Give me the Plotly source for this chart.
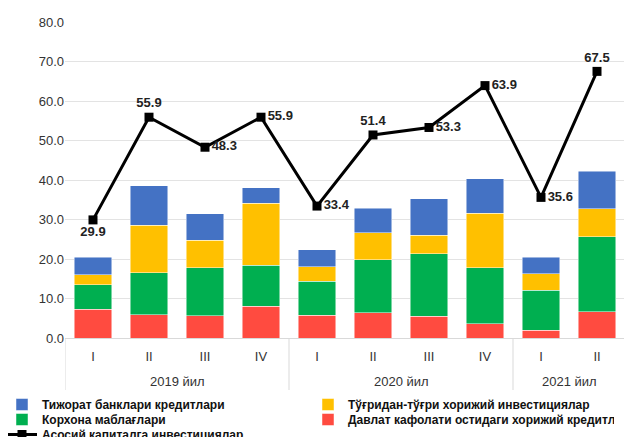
import plotly.graph_objects as go

years = ["2019 йил"] * 4 + ["2020 йил"] * 4 + ["2021 йил"] * 2
quarters = ["I", "II", "III", "IV", "I", "II", "III", "IV", "I", "II"]

red_vals = [7.3, 5.9, 5.6, 8.0, 5.8, 6.4, 5.5, 3.6, 2.0, 6.6]
green_vals = [6.2, 10.6, 12.2, 10.4, 8.6, 13.4, 15.8, 14.2, 10.1, 19.0]
yellow_vals = [2.5, 12.1, 7.0, 15.7, 3.7, 6.9, 4.7, 13.8, 4.2, 7.1]
blue_vals = [4.5, 10.0, 6.7, 3.9, 4.3, 6.1, 9.3, 8.7, 4.2, 9.5]
line_vals = [29.9, 55.9, 48.3, 55.9, 33.4, 51.4, 53.3, 63.9, 35.6, 67.5]

label_pos = ["bottom center", "top center", "middle right", "middle right", "middle right",
             "top center", "middle right", "middle right", "middle right", "top center"]

idx = list(range(len(quarters)))
font_family = "Liberation Sans, Arial, sans-serif"
AXIS_GREY = "#D9D9D9"

fig = go.Figure()
bar_specs = [
    ("Давлат кафолати остидаги хорижий кредитлар", red_vals, "#FF4B40", "legend2", 2),
    ("Корхона маблағлари", green_vals, "#00AF50", "legend2", 1),
    ("Тўғридан-тўғри хорижий инвестициялар", yellow_vals, "#FFC000", "legend", 2),
    ("Тижорат банклари кредитлари", blue_vals, "#4472C4", "legend", 1),
]
for name, vals, color, leg, rank in bar_specs:
    fig.add_trace(go.Bar(
        x=idx, y=vals, name=name, legend=leg, legendrank=rank,
        marker=dict(color=color, line=dict(color="rgba(255,255,255,0.6)", width=0.8)),
    ))

fig.add_trace(go.Scatter(
    x=idx, y=line_vals, name="Асосий капиталга инвестициялар", legend="legend3",
    mode="lines+markers+text",
    line=dict(color="black", width=3),
    marker=dict(symbol="square", size=9, color="black"),
    texttemplate="%{y:.1f}", textposition=label_pos,
    textfont=dict(family=font_family, size=13, color="#222", weight="bold"),
    cliponaxis=False,
))

# page has an 8px body offset; plot area target (page px): x 65..625, y 22..338
PLOT_H = 316.0
def ypos(px):
    return -(px - 338) / PLOT_H

# year group labels and dividers, derived from the years list
groups = []
for i, yname in enumerate(years):
    if not groups or groups[-1][0] != yname:
        groups.append([yname, i, i])
    else:
        groups[-1][2] = i

annotations = []
shapes = []
for yname, start, end in groups:
    annotations.append(dict(
        x=(start + end) / 2, y=ypos(381), xref="x", yref="paper",
        text=yname, showarrow=False, yanchor="middle",
        font=dict(family=font_family, size=13, color="#333"),
    ))
    shapes.append(dict(type="line", xref="x", yref="paper",
                       x0=start - 0.5, x1=start - 0.5, y0=0, y1=ypos(390),
                       line=dict(color=AXIS_GREY, width=1)))
shapes.append(dict(type="line", xref="x", yref="paper",
                   x0=groups[-1][2] + 0.5, x1=groups[-1][2] + 0.5, y0=0, y1=ypos(390),
                   line=dict(color=AXIS_GREY, width=1)))

leg_common = dict(
    orientation="h", traceorder="normal",
    x=-0.1125, xanchor="left", yanchor="top",
    entrywidth=261, entrywidthmode="pixels",
    font=dict(family=font_family, size=12, color="#111", weight="bold"),
    itemwidth=30, tracegroupgap=0,
    bgcolor="rgba(0,0,0,0)",
)

fig.update_layout(
    width=632, height=437,
    barmode="stack", bargap=0.33,
    paper_bgcolor="white", plot_bgcolor="white",
    margin=dict(l=57, r=15, t=14, b=107, autoexpand=False),
    font=dict(family=font_family, size=12, color="#333"),
    showlegend=True,
    legend=dict(leg_common, y=ypos(390)),
    legend2=dict(leg_common, y=ypos(405)),
    legend3=dict(leg_common, y=ypos(420)),
    annotations=annotations,
    shapes=shapes,
    yaxis=dict(
        range=[0, 80], dtick=10, tickformat=".1f",
        showgrid=True, gridcolor="#E3E3E3", gridwidth=1,
        zeroline=False, showline=False,
        tickfont=dict(size=13, color="#333"),
        ticks="", ticklen=0,
    ),
    xaxis=dict(
        range=[-0.5, len(idx) - 0.5], automargin=False,
        tickmode="array", tickvals=idx, ticktext=quarters,
        showgrid=False, zeroline=False,
        showline=True, linecolor=AXIS_GREY, linewidth=1,
        tickfont=dict(size=13, color="#333"),
        ticks="", ticklabelstandoff=6,
    ),
)

fig.write_html("out.html")
